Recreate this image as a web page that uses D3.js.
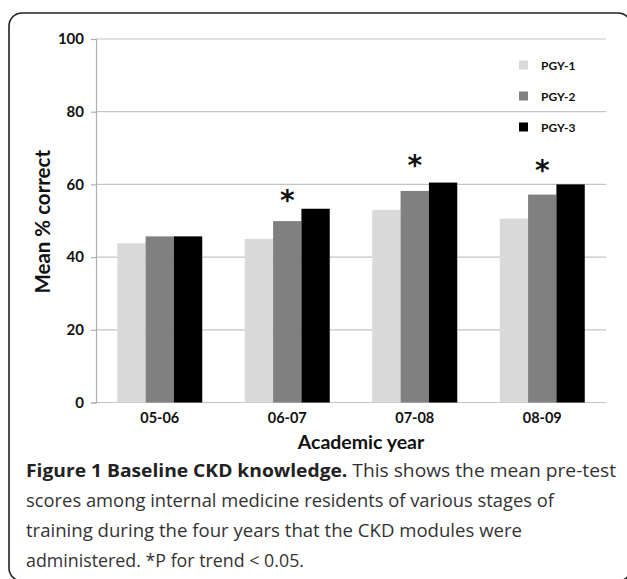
<!DOCTYPE html>
<html><head><meta charset="utf-8">
<script src="https://cdn.jsdelivr.net/npm/d3@7"></script>
<style>
html,body{margin:0;padding:0;background:#fff;}
svg{display:block;}
</style></head>
<body>
<svg id="chart" width="627" height="579"></svg>
<script>
const years = ["05-06", "06-07", "07-08", "08-09"];
const seriesNames = ["PGY-1", "PGY-2", "PGY-3"];
const pgy1 = [43.8, 45.0, 53.0, 50.6];
const pgy2 = [45.7, 49.9, 58.2, 57.2];
const pgy3 = [45.7, 53.3, 60.5, 60.0];
const significant = [false, true, true, true];
const asteriskLevel = [null, 56.2, 65.9, 64.5];
const yTicks = [0, 20, 40, 60, 80, 100];
const colors = ["#d9d9d9", "#808080", "#000000"];
const captionBold = "Figure 1 Baseline CKD knowledge.";
const captionLines = [
  " This shows the mean pre-test",
  "scores among internal medicine residents of various stages of",
  "training during the four years that the CKD modules were",
  "administered. *P for trend < 0.05."
];

const series = [pgy1, pgy2, pgy3];
const svg = d3.select("#chart");
const tickFont = "Lato, 'Open Sans', sans-serif";

// frame
svg.append("rect").attr("x", 9).attr("y", 13).attr("width", 622).attr("height", 568)
  .attr("rx", 13).attr("fill", "none").attr("stroke", "#222").attr("stroke-width", 1.6);

const plot = {left: 96, right: 606, top: 39, bottom: 402.5};
const x0 = d3.scaleBand().domain(years).range([plot.left, plot.right]).paddingInner(1/3).paddingOuter(1/6);
const x1 = d3.scaleBand().domain(seriesNames).range([0, x0.bandwidth()]);
const y = d3.scaleLinear().domain([0, 100]).range([plot.bottom, plot.top]);

// gridlines
svg.append("g").selectAll("line").data(yTicks).join("line")
  .attr("x1", plot.left).attr("x2", plot.right)
  .attr("y1", d => y(d)).attr("y2", d => y(d))
  .attr("stroke", "#c4c4c4").attr("stroke-width", 1.2);

// y axis
const yAxis = svg.append("g").attr("transform", `translate(${plot.left},0)`)
  .call(d3.axisLeft(y).tickValues(yTicks).tickSize(5).tickPadding(7));
yAxis.select(".domain").attr("stroke", "#b0b0b0").attr("stroke-width", 1.2);
yAxis.selectAll(".tick line").attr("stroke", "#b0b0b0").attr("stroke-width", 1.2);
yAxis.selectAll("text").attr("font-family", tickFont).attr("font-weight", "bold")
  .attr("font-size", 15).attr("fill", "#111");

// x axis
const xAxis = svg.append("g").attr("transform", `translate(0,${plot.bottom})`)
  .call(d3.axisBottom(x0).tickSize(0).tickPadding(10));
xAxis.select(".domain").remove();
xAxis.selectAll("text").attr("font-family", tickFont).attr("font-weight", "bold")
  .attr("font-size", 14.5).attr("fill", "#111");

// bars
const groups = svg.append("g").selectAll("g").data(years).join("g")
  .attr("transform", d => `translate(${x0(d)},0)`);
groups.selectAll("rect").data((d, i) => seriesNames.map((s, j) => ({s, v: series[j][i], j})))
  .join("rect")
  .attr("x", d => x1(d.s)).attr("width", x1.bandwidth())
  .attr("y", d => y(d.v)).attr("height", d => y(0) - y(d.v))
  .attr("fill", d => colors[d.j]);

// asterisks
svg.append("g").selectAll("text").data(years.filter((d, i) => significant[i]))
  .join("text")
  .attr("x", d => x0(d) + x0.bandwidth() / 2)
  .attr("y", d => y(asteriskLevel[years.indexOf(d)]) + 12)
  .attr("text-anchor", "middle")
  .attr("font-family", "'DejaVu Sans', sans-serif").attr("font-weight", "bold")
  .attr("font-size", 28).attr("fill", "#111").text("*");

// legend
const legend = svg.append("g").selectAll("g").data(seriesNames).join("g")
  .attr("transform", (d, i) => `translate(519,${65 + i * 31})`);
legend.append("rect").attr("x", 0).attr("y", -4.5).attr("width", 9).attr("height", 9)
  .attr("fill", (d, i) => colors[i]);
legend.append("text").attr("x", 22).attr("y", 4.5).text(d => d)
  .attr("font-family", tickFont).attr("font-weight", "bold").attr("font-size", 12).attr("fill", "#111");

// axis titles
svg.append("text").attr("transform", `translate(50,${(plot.top + plot.bottom) / 2 + 1}) rotate(-90)`)
  .attr("text-anchor", "middle").attr("font-family", tickFont).attr("font-weight", "bold")
  .attr("font-size", 20.5).attr("fill", "#111").text("Mean % correct");
svg.append("text").attr("x", 361).attr("y", 449)
  .attr("text-anchor", "middle").attr("font-family", tickFont).attr("font-weight", "bold")
  .attr("font-size", 19.5).attr("fill", "#111").text("Academic year");

// caption
const capFont = "'Open Sans', sans-serif";
const capY = [477, 507, 537, 567];
const capEnd = [616, 554, 522, 304];
const cap = svg.append("g").attr("font-family", capFont).attr("font-size", 18).attr("fill", "#333");
const t0 = cap.append("text").attr("x", 26).attr("y", capY[0])
  .attr("textLength", capEnd[0] - 26).attr("lengthAdjust", "spacingAndGlyphs");
t0.append("tspan").attr("font-weight", "bold").attr("fill", "#222").text(captionBold);
t0.append("tspan").text(captionLines[0]);
for (let i = 1; i < captionLines.length; i++) {
  cap.append("text").attr("x", 26).attr("y", capY[i])
    .attr("textLength", capEnd[i] - 26).attr("lengthAdjust", "spacingAndGlyphs")
    .text(captionLines[i]);
}
</script>
</body></html>
